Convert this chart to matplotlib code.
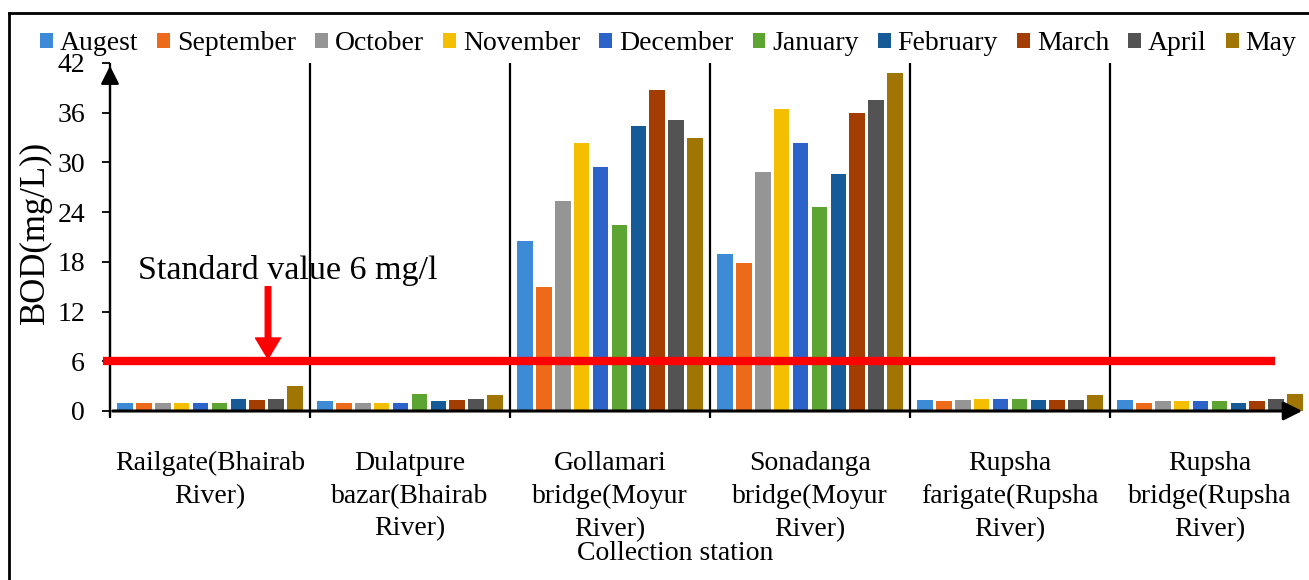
import numpy as np
import matplotlib.pyplot as plt
from matplotlib.lines import Line2D

plt.rcParams['font.family'] = ['Liberation Serif', 'DejaVu Serif']

# BOD (mg/L) per station, one list per month
stations = ['Railgate(Bhairab\nRiver)', 'Dulatpure\nbazar(Bhairab\nRiver)',
            'Gollamari\nbridge(Moyur\nRiver)', 'Sonadanga\nbridge(Moyur\nRiver)',
            'Rupsha\nfarigate(Rupsha\nRiver)', 'Rupsha\nbridge(Rupsha\nRiver)']
months = ['Augest', 'September', 'October', 'November', 'December',
          'January', 'February', 'March', 'April', 'May']
aug = [1.0, 1.2, 20.5, 19.0, 1.3, 1.3]
sep = [1.0, 1.0, 15.0, 17.9, 1.2, 1.0]
octo = [1.0, 1.0, 25.3, 28.8, 1.3, 1.2]
nov = [1.0, 1.0, 32.4, 36.4, 1.5, 1.2]
dec = [1.0, 1.0, 29.4, 32.4, 1.5, 1.2]
jan = [1.0, 2.1, 22.4, 24.6, 1.5, 1.2]
feb = [1.5, 1.2, 34.4, 28.6, 1.3, 1.0]
mar = [1.3, 1.3, 38.7, 36.0, 1.3, 1.2]
apr = [1.5, 1.5, 35.1, 37.5, 1.3, 1.5]
may = [3.0, 1.9, 32.9, 40.8, 1.9, 2.1]
standard = 6
yticks = [0, 6, 12, 18, 24, 30, 36, 42]

series = [aug, sep, octo, nov, dec, jan, feb, mar, apr, may]
colors = ['#3d8ad6', '#ec6a1a', '#959595', '#f4bf00', '#2c63c9',
          '#5ca532', '#175a98', '#a43d02', '#535353', '#a07503']

W, H = 1309, 580
fig = plt.figure(figsize=(W / 100, H / 100), dpi=100)
ax = fig.add_axes([110 / W, (H - 411) / H, 1200 / W, (411 - 63) / H])

x = np.arange(len(stations))
step, bw = 0.0944, 0.078
for i, (vals, c) in enumerate(zip(series, colors)):
    ax.bar(x + 0.5 + (i - 4.5) * step, vals, bw, color=c, label=months[i], zorder=3)

ax.set_xlim(0, 6)
ax.set_ylim(0, 42)
for s in ax.spines.values():
    s.set_visible(False)

# group separators (run a bit below the axis, like ticks)
ax.vlines(np.arange(0, 6), -0.9, 42, color='black', lw=1.6, clip_on=False, zorder=4)

# axis lines with arrow heads
ax.annotate('', xy=(0, 42), xytext=(0, -0.9),
            arrowprops=dict(arrowstyle='-|>', color='black', lw=1.6, mutation_scale=28),
            annotation_clip=False)
ax.annotate('', xy=(5.975, 0), xytext=(0, 0),
            arrowprops=dict(arrowstyle='-|>', color='black', lw=2.2, mutation_scale=28),
            annotation_clip=False, zorder=5)

ax.set_yticks(yticks)
ax.tick_params(axis='y', direction='out', length=6, width=1.3, labelsize=20, pad=12)
ax.set_xticks(x + 0.5)
ax.set_xticklabels(stations, fontsize=20, linespacing=1.4)
ax.tick_params(axis='x', length=0, pad=29)

# standard limit line and marker
ax.plot([-0.035, 5.825], [standard, standard], color='red', lw=6, solid_capstyle='butt',
        clip_on=False, zorder=6)
ax.annotate('', xy=(0.79, standard + 0.3), xytext=(0.79, 15.0),
            arrowprops=dict(facecolor='red', edgecolor='red', width=4, headwidth=18,
                            headlength=15), zorder=7)
ax.text(0.14, 17.0, 'Standard value 6 mg/l', fontsize=24.5, va='center', ha='left', zorder=7)

fig.text(35 / W, 1 - 232 / H, 'BOD(mg/L))', rotation=90, fontsize=25,
         ha='center', va='center')
fig.text(675 / W, 1 - 553 / H, 'Collection station', fontsize=20,
         ha='center', va='center')

fig.legend(loc='center left', bbox_to_anchor=(40 / W, 1 - 44 / H), ncol=10,
           frameon=False, fontsize=20, handlelength=0.45, handleheight=0.45,
           handletextpad=0.25, columnspacing=0.7, borderaxespad=0, borderpad=0)

# outer frame
fig.add_artist(Line2D([9 / W, 1], [1 - 13 / H, 1 - 13 / H], color='black', lw=2))
fig.add_artist(Line2D([9 / W, 9 / W], [0, 1 - 13 / H], color='black', lw=2))

fig.savefig('out.png', dpi=100)
